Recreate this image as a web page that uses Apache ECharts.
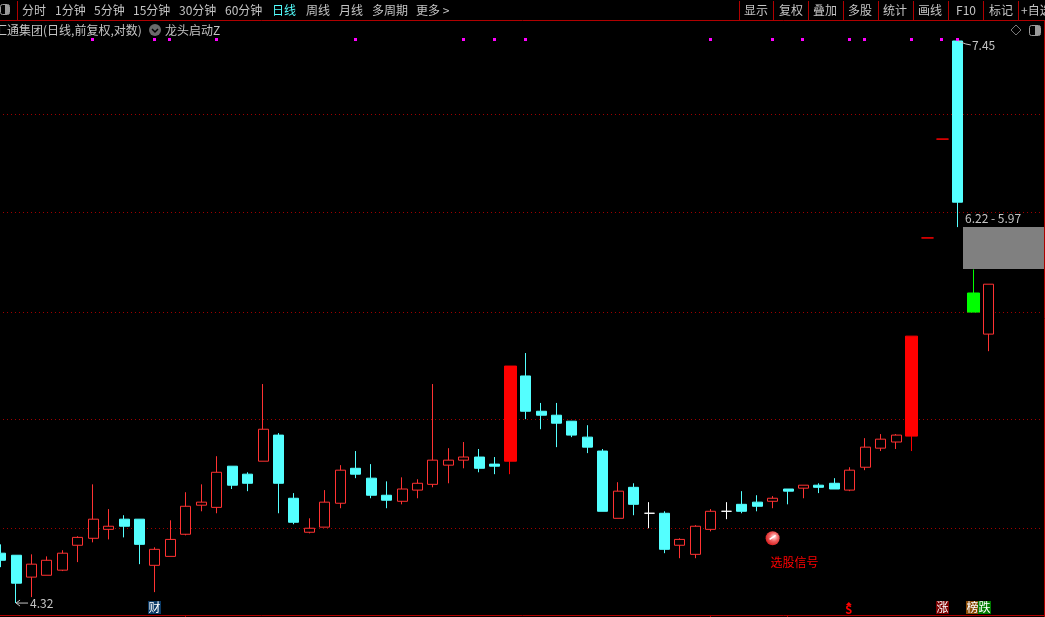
<!DOCTYPE html>
<html><head><meta charset="utf-8">
<style>html,body{margin:0;padding:0;background:#000;overflow:hidden}#c{width:1045px;height:617px}</style>
<script src="https://cdn.jsdelivr.net/npm/echarts@6/dist/echarts.min.js"></script>
</head><body><div id="c"></div>
<script>
var opens=[4.534,4.525,4.430,4.438,4.46,4.569,4.60,4.64,4.686,4.686,4.481,4.52,4.618,4.75,4.74,4.933,4.895,4.957,5.084,4.782,4.627,4.65,4.759,4.923,4.876,4.796,4.768,4.82,4.847,4.938,4.962,4.977,4.943,4.957,5.384,5.203,5.183,5.153,5.074,5.006,4.69,4.833,4.713,4.713,4.569,4.529,4.64,4.722,4.754,4.764,4.768,4.825,4.829,4.843,4.852,4.82,4.928,5.02,5.05,5.079,6.155,6.774,7.45,5.835,5.607];
var closes=[4.503,4.404,4.486,4.503,4.534,4.604,4.686,4.654,4.654,4.573,4.551,4.595,4.745,4.764,4.904,4.843,4.852,5.113,4.852,4.672,4.645,4.764,4.914,4.895,4.796,4.773,4.825,4.852,4.962,4.962,4.977,4.923,4.933,5.436,5.203,5.183,5.143,5.084,5.025,4.722,4.815,4.754,4.713,4.551,4.595,4.654,4.722,4.722,4.722,4.745,4.782,4.815,4.843,4.833,4.825,4.914,5.025,5.064,5.084,5.596,6.155,6.774,6.372,5.728,5.885];
var lows=[4.473,4.32,4.345,4.438,4.456,4.495,4.582,4.595,4.604,4.486,4.366,4.52,4.613,4.722,4.713,4.825,4.815,4.957,4.713,4.663,4.622,4.65,4.736,4.876,4.782,4.736,4.754,4.782,4.833,4.852,4.923,4.904,4.895,4.895,5.163,5.113,5.025,5.074,4.996,4.722,4.69,4.704,4.645,4.534,4.512,4.512,4.631,4.686,4.713,4.722,4.736,4.754,4.782,4.806,4.825,4.815,4.914,5.006,5.016,5.006,6.155,6.774,6.22,5.728,5.515];
var highs=[4.573,4.525,4.529,4.52,4.547,4.609,4.847,4.732,4.704,4.686,4.56,4.681,4.81,4.847,4.981,4.933,4.904,5.342,5.094,4.806,4.69,4.82,4.938,5.006,4.943,4.861,4.88,4.871,5.342,5.02,5.05,5.016,4.977,5.436,5.505,5.245,5.245,5.153,5.133,5.016,4.857,4.852,4.764,4.722,4.60,4.659,4.732,4.764,4.815,4.796,4.792,4.825,4.843,4.852,4.876,4.928,5.069,5.089,5.089,5.596,6.155,6.774,7.45,5.97,5.885];
var wideIdx=[33,59,60,61,63];
var greenIdx=[63];
var signalIdx=[6,10,11,14,23,30,32,34,46,50,52,55,56,59,61,62];
var signalPrice=7.464;
var gridPrices=[6.94,6.31,5.73,5.164,4.645];
var gapRange=[62,6.22,5.97];
var gapText='6.22 - 5.97';
var lowNote=[1,4.32,'4.32'];
var highNote=[62,7.45,'7.45'];
var pickIdx=50, pickPrice=4.60, pickText='选股信号';
var badges=[[10,'财','#0b3a66'],[61,'涨','#7a0000'],[63,'榜','#8a4b08'],[64,'跌','#007a00']];
var sIdx=55;
var slots=68;
var categories=[];for(var k=0;k<slots;k++)categories.push(String(k));
var periodTabs=[['分时',22],['1分钟',55],['5分钟',94],['15分钟',133],['30分钟',179],['60分钟',225],['日线',272],['周线',306],['月线',339],['多周期',372],['更多 >',416]];
var rightTabs=[['显示',756],['复权',791],['叠加',825],['多股',860],['统计',895],['画线',930],['F10',966],['标记',1001]];
var rightSeps=[739,773,808,843,878,913,948,983,1018];
var bottomTicks=[185,710,787];

var FONT='"Noto Sans CJK SC","Liberation Sans",sans-serif';
var CY='#54ffff',HR='#ff3232',RD='#ff0000',GN='#00ff00',GR='#c4c4c4',LN='#b00000';
function row(i){return [opens[i],closes[i],lows[i],highs[i]];}
var EMPTY=['-','-','-','-'];
function styled(i){
  var o=opens[i],c=closes[i],st;
  if(greenIdx.indexOf(i)>=0)st={color:GN,color0:GN,borderColor:GN,borderColor0:GN};
  else if(wideIdx.indexOf(i)>=0)st={color:RD,color0:RD,borderColor:RD,borderColor0:RD};
  else if(c>o)st={color:'#000',color0:'#000',borderColor:HR,borderColor0:HR};
  else if(c<o)st={color:CY,color0:CY,borderColor:CY,borderColor0:CY};
  else st={color:'#fff',color0:'#fff',borderColor:'#fff',borderColor0:'#fff'};
  return {value:row(i),itemStyle:st};
}
var narrow=[],wide=[];
opens.forEach(function(_,i){
  var w=wideIdx.indexOf(i)>=0;
  narrow.push(w?EMPTY:styled(i));
  wide.push(w?styled(i):EMPTY);
});
var gfx=[];
function txt(s,x,y,col,align,size){gfx.push({type:'text',x:x,y:y,silent:true,style:{text:s,fill:col||GR,font:(size||12)+'px '+FONT,textAlign:align||'left',textVerticalAlign:'middle'}});}
function ln(x1,y1,x2,y2,col){gfx.push({type:'line',silent:true,shape:{x1:x1,y1:y1,x2:x2,y2:y2},style:{stroke:col||LN,lineWidth:1}});}
ln(0,20.5,1045,20.5);ln(17.5,1,17.5,20);
ln(0,615.5,1045,615.5);ln(1044.5,20,1044.5,617);
bottomTicks.forEach(function(x){ln(x+.5,615,x+.5,617);});
rightSeps.forEach(function(x){ln(x+.5,1,x+.5,20);});
periodTabs.forEach(function(t){txt(t[0],t[1],10,t[0]==='日线'?CY:GR);});
rightTabs.forEach(function(t){txt(t[0],t[1],10,GR,'center');});
txt('+自选',1021,10);
gfx.push({type:'rect',silent:true,shape:{x:0.5,y:4.5,width:9,height:10,r:2},style:{fill:'#000',stroke:'#9a9a9a',lineWidth:1}});
gfx.push({type:'rect',silent:true,shape:{x:5,y:5,width:4,height:9},style:{fill:'#9a9a9a'}});
txt('汇通集团(日线,前复权,对数)',-5,30);
gfx.push({type:'circle',silent:true,shape:{cx:155,cy:30,r:6},style:{fill:'#6a6a6a'}});
gfx.push({type:'polyline',silent:true,shape:{points:[[152,29],[155,32],[158,29]]},style:{stroke:'#000',lineWidth:1.5,fill:null}});
txt('龙头启动Z',165,30);
gfx.push({type:'polygon',silent:true,shape:{points:[[1016,25],[1021,30],[1016,35],[1011,30]]},style:{fill:'#000',stroke:'#777',lineWidth:1}});
gfx.push({type:'rect',silent:true,shape:{x:1029.5,y:25.5,width:11,height:10,r:2},style:{fill:'#000',stroke:'#9a9a9a',lineWidth:1}});
gfx.push({type:'rect',silent:true,shape:{x:1035,y:26,width:5,height:9},style:{fill:'#9a9a9a'}});

var W=1045;
var option={
  animation:false,backgroundColor:'#000',
  grid:{left:0.6,top:0,width:1034.48,height:617,containLabel:false,show:false},
  xAxis:{type:'category',data:categories,boundaryGap:false,show:false},
  yAxis:{type:'log',min:4.262,max:7.752,show:false,splitLine:{show:false}},
  graphic:gfx,
  series:[
    {type:'custom',name:'grid',clip:false,z:1,silent:true,data:gridPrices.map(function(p){return [0,p];}),
     renderItem:function(params,api){var y=Math.round(api.coord([0,api.value(1)])[1])+.5;
       return {type:'line',shape:{x1:3,y1:y,x2:1040,y2:y},style:{stroke:'#a00000',lineWidth:1,lineDash:[1,3]}};}},
    {type:'candlestick',name:'K',z:3,barWidth:10.5,silent:true,clip:false,data:narrow,itemStyle:{borderWidth:1}},
    {type:'candlestick',name:'KLimit',z:3,barWidth:12.5,silent:true,clip:false,data:wide,itemStyle:{borderWidth:1}},
    {type:'custom',name:'signal',clip:false,z:4,silent:true,data:signalIdx.map(function(i){return [i,signalPrice];}),
     renderItem:function(params,api){var p=api.coord([api.value(0),api.value(1)]);
       return {type:'rect',shape:{x:Math.round(p[0])-2,y:Math.round(p[1])-1,width:3,height:3},style:{fill:'#ff00ff'}};}},
    {type:'custom',name:'gap',clip:false,z:5,silent:true,data:[gapRange],
     renderItem:function(params,api){
       var a=api.coord([api.value(0),api.value(1)]),b=api.coord([api.value(0),api.value(2)]);
       var x=Math.round(a[0])+5,y1=Math.round(a[1]),y2=Math.round(b[1]);
       return {type:'group',children:[
         {type:'rect',shape:{x:x,y:y1,width:W-1-x,height:y2-y1},style:{fill:'#808080'}},
         {type:'text',x:x+2,y:y1-9,style:{text:gapText,fill:GR,font:'12px '+FONT,textVerticalAlign:'middle'}}
       ]};}},
    {type:'custom',name:'notes',clip:false,z:6,silent:true,data:[lowNote.slice(0,2),highNote.slice(0,2)],
     renderItem:function(params,api){
       var p=api.coord([api.value(0),api.value(1)]);
       if(params.dataIndex===0){
         return {type:'group',children:[
           {type:'polyline',shape:{points:[[p[0]+4,p[1]-3],[p[0],p[1]],[p[0]+4,p[1]+3]]},style:{stroke:GR,fill:null,lineWidth:1}},
           {type:'line',shape:{x1:p[0],y1:p[1],x2:p[0]+12,y2:p[1]},style:{stroke:GR,lineWidth:1}},
           {type:'text',x:p[0]+14,y:p[1],style:{text:lowNote[2],fill:GR,font:'12px '+FONT,textVerticalAlign:'middle'}}
         ]};
       }
       return {type:'group',children:[
         {type:'polyline',shape:{points:[[p[0],p[1]],[p[0]+8,p[1]+3],[p[0]+13,p[1]+4]]},style:{stroke:GR,fill:null,lineWidth:1}},
         {type:'text',x:p[0]+14,y:p[1]+4,style:{text:highNote[2],fill:GR,font:'12px '+FONT,textVerticalAlign:'middle'}}
       ]};
     }},
    {type:'custom',name:'pick',clip:false,z:6,silent:true,data:[[pickIdx,pickPrice]],
     renderItem:function(params,api){
       var p=api.coord([api.value(0),api.value(1)]);
       return {type:'group',children:[
         {type:'circle',shape:{cx:p[0],cy:p[1],r:7},style:{fill:new echarts.graphic.RadialGradient(0.6,0.4,0.7,[{offset:0,color:'#ffe8e8'},{offset:0.45,color:'#f06060'},{offset:1,color:'#d01010'}])}},
         {type:'line',shape:{x1:p[0]-3,y1:p[1]+1,x2:p[0]+3,y2:p[1]-3},style:{stroke:'#ffffff',lineWidth:1.5}},
         {type:'text',x:p[0]-2,y:p[1]+24,style:{text:pickText,fill:RD,font:'12px '+FONT,textVerticalAlign:'middle'}}
       ]};}},
    {type:'custom',name:'badges',clip:false,z:6,silent:true,data:badges.map(function(b){return [b[0],4.28];}),
     renderItem:function(params,api){
       var b=badges[params.dataIndex],x=api.coord([api.value(0),api.value(1)])[0];
       var off={'财':-6.5,'涨':-6.5,'榜':-7,'跌':-11}[b[1]];
       return {type:'group',children:[
         {type:'rect',shape:{x:Math.round(x+off),y:601,width:13,height:13},style:{fill:b[2]}},
         {type:'text',x:Math.round(x+off)+6.5,y:607.5,style:{text:b[1],fill:'#fff',font:'12px '+FONT,textAlign:'center',textVerticalAlign:'middle'}}
       ]};}},
    {type:'custom',name:'sMark',clip:false,z:6,silent:true,data:[[sIdx,4.28]],
     renderItem:function(params,api){
       var x=api.coord([api.value(0),api.value(1)])[0]-1;
       return {type:'group',children:[
         {type:'polygon',shape:{points:[[x,602],[x+3,605],[x-3,605]]},style:{fill:RD}},
         {type:'text',x:x,y:610,style:{text:'S',fill:RD,font:'bold 11px '+FONT,textAlign:'center',textVerticalAlign:'middle'}}
       ]};}}
  ]
};
echarts.init(document.getElementById('c'),null,{renderer:'canvas'}).setOption(option);
</script></body></html>
